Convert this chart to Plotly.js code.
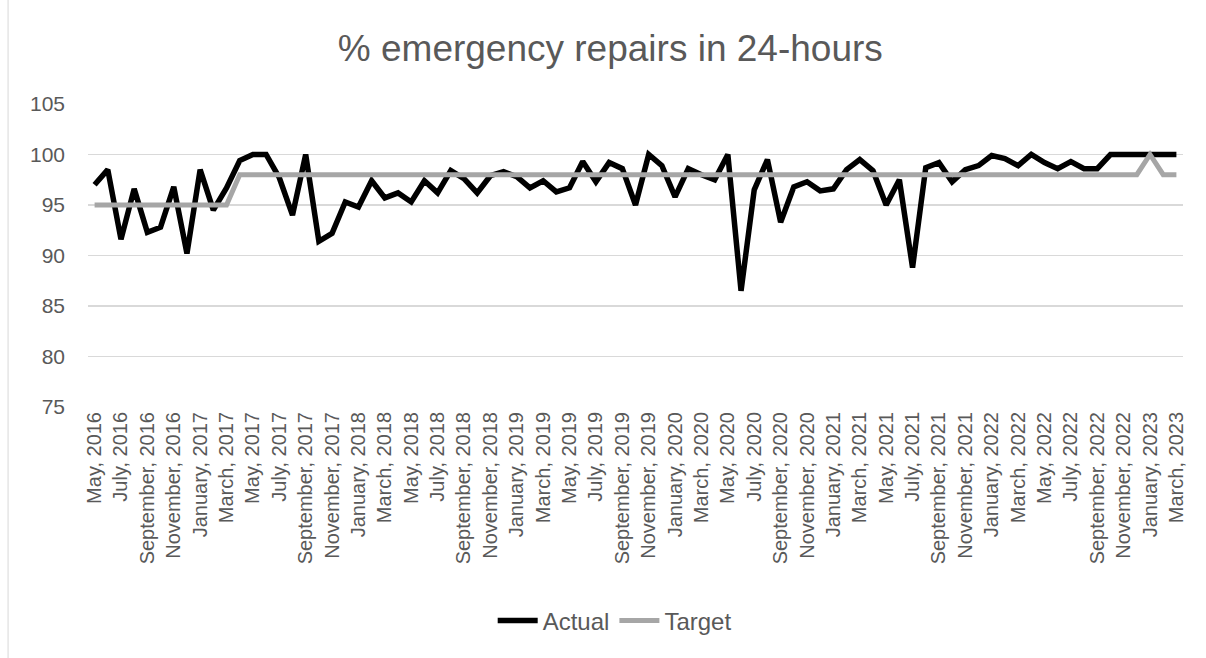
<!DOCTYPE html>
<html>
<head>
<meta charset="utf-8">
<script src="https://cdn.plot.ly/plotly-3.0.1.min.js"></script>
<style>
  html, body { margin: 0; padding: 0; background: #ffffff; }
  #chart { width: 1206px; height: 658px; }
</style>
</head>
<body>
<div id="chart"></div>
<script>
// ---- data ----
const monthNames = ["January","February","March","April","May","June","July","August","September","October","November","December"];
const startYear = 2016;
const startMonthIndex = 4; // May
const actual = [
  97.0, 98.5, 91.6, 96.6, 92.3, 92.8, 96.8, 90.2, 98.5, 94.5,
  96.7, 99.4, 100, 100, 97.7, 94.0, 100, 91.4, 92.2, 95.3,
  94.8, 97.4, 95.7, 96.2, 95.3, 97.4, 96.2, 98.4, 97.6, 96.2,
  97.9, 98.3, 97.8, 96.7, 97.4, 96.3, 96.7, 99.3, 97.3, 99.2,
  98.6, 95.0, 100, 98.9, 95.8, 98.6, 98.0, 97.5, 100, 86.5,
  96.5, 99.5, 93.3, 96.8, 97.3, 96.4, 96.6, 98.5, 99.5, 98.4,
  95.0, 97.5, 88.8, 98.7, 99.2, 97.3, 98.5, 98.9, 99.9, 99.6,
  98.9, 100, 99.2, 98.6, 99.3, 98.6, 98.6, 100, 100, 100,
  100, 100, 100
];
const target = [
  95, 95, 95, 95, 95, 95, 95, 95, 95, 95,
  95, 98, 98, 98, 98, 98, 98, 98, 98, 98,
  98, 98, 98, 98, 98, 98, 98, 98, 98, 98,
  98, 98, 98, 98, 98, 98, 98, 98, 98, 98,
  98, 98, 98, 98, 98, 98, 98, 98, 98, 98,
  98, 98, 98, 98, 98, 98, 98, 98, 98, 98,
  98, 98, 98, 98, 98, 98, 98, 98, 98, 98,
  98, 98, 98, 98, 98, 98, 98, 98, 98, 98,
  100, 98, 98
];
const yTicks = [75, 80, 85, 90, 95, 100, 105];

// category labels: one per month, May 2016 .. March 2023
const categories = [];
for (let i = 0; i < actual.length; i++) {
  const m = (startMonthIndex + i) % 12;
  const y = startYear + Math.floor((startMonthIndex + i) / 12);
  categories.push(monthNames[m] + ", " + y);
}
const tickCats = categories.filter((c, i) => i % 2 === 0);

const textColor = "#595959";
const fontFam = "'Liberation Sans', Arial, sans-serif";

const traces = [
  {
    x: categories, y: actual, name: "Actual", type: "scatter", mode: "lines",
    line: { color: "#000000", width: 5.5, shape: "linear" }
  },
  {
    x: categories, y: target, name: "Target", type: "scatter", mode: "lines",
    line: { color: "#A6A6A6", width: 5, shape: "linear" }
  }
];

const layout = {
  width: 1206, height: 658,
  paper_bgcolor: "#ffffff", plot_bgcolor: "#ffffff",
  margin: { l: 88, r: 23, t: 104, b: 251 },
  font: { family: fontFam, color: textColor },
  title: {
    text: "% emergency repairs in 24-hours",
    font: { family: fontFam, size: 37, color: textColor },
    x: 0.477, xanchor: "center", xref: "paper",
    y: 0.927, yanchor: "middle", yref: "container"
  },
  xaxis: {
    type: "category",
    range: [-0.5, categories.length - 0.5],
    tickmode: "array", tickvals: tickCats, ticktext: tickCats,
    tickangle: -90,
    tickfont: { family: fontFam, size: 20, color: textColor },
    showgrid: false, zeroline: false,
    showline: false, ticks: "", fixedrange: true
  },
  yaxis: {
    range: [75, 105],
    tickmode: "array", tickvals: yTicks,
    tickfont: { family: fontFam, size: 21, color: textColor },
    showgrid: true, gridcolor: "#D9D9D9", gridwidth: 1.3,
    zeroline: false, showline: false, ticks: "",
    ticklabelstandoff: 22, fixedrange: true
  },
  showlegend: true,
  legend: {
    orientation: "h",
    x: 0.481, xanchor: "center", xref: "paper",
    y: -0.706, yanchor: "middle", yref: "paper",
    font: { family: fontFam, size: 24, color: textColor },
    itemwidth: 40, tracegroupgap: 0
  },
  shapes: [
    { type: "line", xref: "paper", yref: "paper",
      x0: -0.073, x1: -0.073, y0: -0.85, y1: 1.35,
      line: { color: "#D9D9D9", width: 1 } }
  ]
};

Plotly.newPlot("chart", traces, layout, { displayModeBar: false, staticPlot: true });
</script>
</body>
</html>
